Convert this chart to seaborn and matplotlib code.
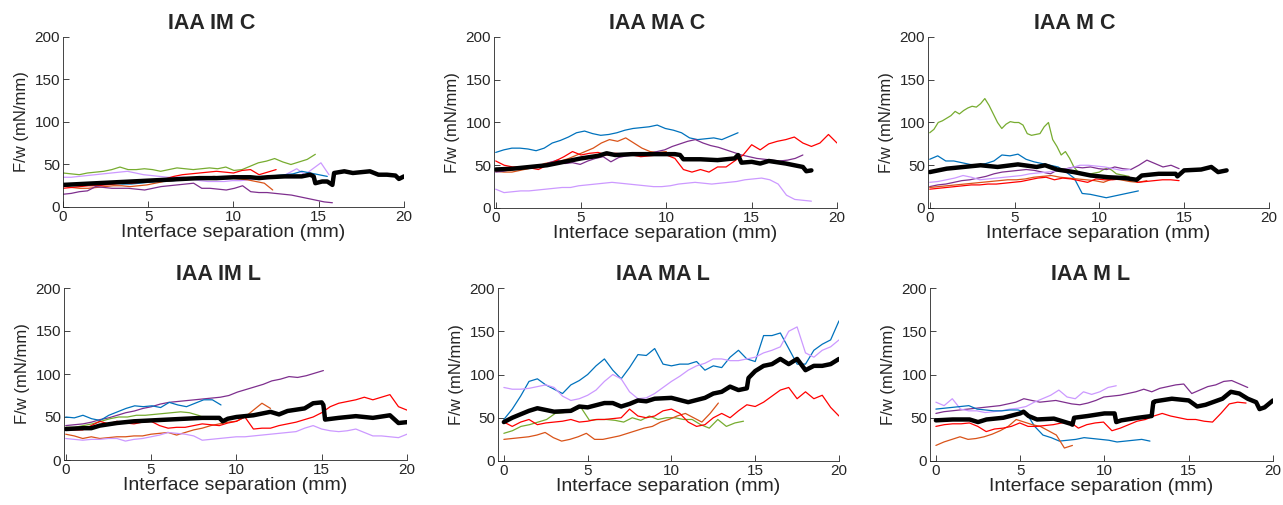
import numpy as np
import pandas as pd
import matplotlib
matplotlib.use("Agg")
import matplotlib.pyplot as plt
import seaborn as sns

# ---------------------------------------------------------------------------
# Peel-test traces: force per width (mN/mm) vs interface separation (mm).
# Each coloured trace is sampled uniformly from 0 to its end separation;
# the thick black mean curve is given as explicit (x, y) breakpoints.
# ---------------------------------------------------------------------------

titles = ["IAA IM C", "IAA MA C", "IAA M C", "IAA IM L", "IAA MA L", "IAA M L"]
x_ticks = [0, 5, 10, 15, 20]
y_ticks = [0, 50, 100, 150, 200]

# ---- IAA IM C --------------------------------------------------------------
imc_green = [40, 39, 38, 40, 41, 42, 44, 47, 44, 44, 45, 44, 42, 44, 46, 45, 44, 45, 46, 45,
             47, 43, 44, 48, 52, 54, 57, 53, 50, 53, 56, 62]
imc_green_end = 14.8
imc_lavender = [35, 35, 36, 37, 38, 39, 40, 41, 42, 40, 38, 37, 36, 35, 35, 35, 33, 31, 30, 30,
                30, 31, 31, 32, 33, 33, 34, 35, 40, 45, 38, 45, 52, 38]
imc_lavender_end = 15.6
imc_blue = [25, 26, 27, 27, 28, 28, 28, 27, 27, 28, 29, 30, 30, 31, 32, 33, 33, 33, 34, 34,
            34, 35, 35, 36, 36, 37, 38, 39, 42, 40, 38, 36]
imc_blue_end = 15.5
imc_red = [22, 23, 24, 25, 25, 26, 27, 28, 28, 29, 30, 31, 33, 36, 38, 39, 40, 41, 42, 41,
           40, 43, 44, 38, 41, 44]
imc_red_end = 12.5
imc_orange = [25, 23, 22, 22, 23, 24, 25, 25, 24, 25, 26, 28, 30, 31, 32, 33, 34, 35, 36, 35,
              34, 33, 32, 30, 28, 20]
imc_orange_end = 12.3
imc_purple = [15, 16, 18, 19, 24, 23, 22, 22, 22, 21, 20, 22, 24, 25, 26, 27, 28, 22, 22, 21,
              20, 22, 25, 18, 17, 17, 16, 15, 14, 12, 10, 8, 6, 5]
imc_purple_end = 15.8
imc_mean_x = [0, 1, 2, 3, 4, 5, 6, 7, 8, 9, 10, 11, 11.5, 12, 13, 14, 14.5, 14.7, 14.8,
              15.2, 15.5, 15.8, 15.9, 16.5, 17, 17.5, 18, 18.5, 19, 19.5, 19.7, 20]
imc_mean_y = [26, 27, 28, 29, 30, 31, 32, 33, 34, 34, 35, 35, 34, 35, 36, 36, 38, 36, 28,
              30, 30, 26, 40, 42, 40, 41, 42, 38, 38, 37, 33, 36]

# ---- IAA MA C --------------------------------------------------------------
mac_blue = [65, 68, 70, 70, 69, 67, 70, 76, 79, 83, 88, 90, 87, 85, 86, 88, 91, 93, 94, 95,
            97, 93, 91, 88, 82, 80, 81, 82, 80, 84, 88]
mac_blue_end = 14.2
mac_orange = [43, 42, 42, 44, 46, 48, 52, 54, 55, 58, 62, 66, 70, 76, 80, 78, 82, 76, 70, 66,
              65, 66]
mac_orange_end = 10.0
mac_red = [55, 50, 48, 48, 47, 45, 50, 55, 60, 66, 62, 64, 65, 62, 64, 63, 62, 60, 61, 62,
           62, 58, 45, 42, 45, 42, 48, 48, 55, 62, 74, 68, 75, 78, 80, 83, 76, 72, 76, 86, 76]
mac_red_end = 20.0
mac_purple = [42, 43, 45, 46, 48, 49, 50, 53, 56, 52, 53, 51, 55, 58, 60, 54, 59, 61, 62, 63,
              64, 66, 68, 72, 75, 78, 80, 76, 73, 71, 68, 65, 62, 60, 58, 57, 56, 55, 56, 58, 62]
mac_purple_end = 18.0
mac_lavender = [22, 18, 19, 20, 20, 21, 22, 23, 24, 24, 26, 27, 28, 29, 30, 29, 28, 27, 26, 25,
                25, 26, 28, 29, 30, 29, 28, 29, 30, 31, 33, 34, 35, 33, 28, 15, 10, 9, 8]
mac_lavender_end = 18.5
mac_mean_x = [0, 1, 2, 3, 4, 5, 6, 6.5, 7, 8, 9, 10, 10.5, 10.8, 11, 12, 13, 14, 14.2,
              14.4, 15, 15.5, 16, 17, 17.5, 18, 18.2, 18.5]
mac_mean_y = [45, 46, 48, 50, 54, 58, 61, 64, 62, 63, 63, 63, 63, 62, 57, 57, 56, 58, 62,
              53, 54, 52, 55, 52, 50, 48, 43, 44]

# ---- IAA M C ---------------------------------------------------------------
mc_green = [88, 92, 100, 102, 105, 108, 113, 110, 114, 117, 119, 118, 122, 128, 120, 110,
            100, 93, 98, 101, 100, 100, 97, 87, 85, 86, 87, 95, 100, 80, 72, 62, 66, 58, 48,
            42, 40, 39, 40, 41, 42, 45, 47, 44, 40, 39, 38, 37]
mc_green_end = 11.75
mc_blue = [57, 61, 55, 55, 53, 51, 50, 52, 55, 62, 61, 63, 57, 54, 52, 50, 48, 42, 35, 17,
           16, 14, 12, 14, 16, 18, 20]
mc_blue_end = 12.3
mc_purple = [25, 27, 28, 30, 32, 33, 35, 37, 40, 42, 43, 44, 45, 44, 42, 40, 45, 46, 48, 47,
             48, 46, 45, 48, 46, 45, 50, 56, 52, 48, 50, 46]
mc_purple_end = 14.7
mc_lavender = [30, 31, 33, 35, 38, 36, 33, 34, 35, 36, 37, 38, 40, 41, 42, 43, 45, 47, 50, 50,
               49, 48, 46, 44, 45]
mc_lavender_end = 11.8
mc_orange = [24, 25, 26, 27, 28, 29, 30, 31, 32, 33, 33, 34, 36, 37, 38, 36, 35, 34, 33, 32,
             30, 34, 33, 31, 30, 32]
mc_orange_end = 12.8
mc_red = [22, 23, 24, 25, 26, 27, 27, 28, 28, 29, 30, 31, 33, 35, 36, 33, 35, 34, 32, 30,
          34, 33, 33, 34, 36, 30, 31, 32, 33, 33, 32]
mc_red_end = 14.7
mc_mean_x = [0, 0.5, 1, 2, 3, 4, 5.2, 6.3, 6.8, 7.5, 8.5, 9.5, 10.5, 11.5, 12.2, 12.5, 13.5,
             14.5, 14.6, 15, 16, 16.6, 17, 17.5]
mc_mean_y = [42, 44, 46, 48, 50, 48, 51, 48, 50, 45, 42, 38, 36, 35, 33, 38, 40, 40, 37, 44,
             45, 48, 42, 44]

# ---- IAA IM L --------------------------------------------------------------
iml_purple = [40, 41, 42, 44, 47, 49, 52, 55, 57, 60, 62, 65, 67, 68, 69, 70, 71, 72, 73, 75,
              79, 82, 85, 88, 92, 94, 97, 96, 98, 101, 104]
iml_purple_end = 15.1
iml_blue = [50, 49, 52, 48, 46, 52, 56, 60, 63, 62, 63, 61, 67, 64, 62, 66, 70, 70, 64]
iml_blue_end = 9.1
iml_green = [38, 38, 40, 42, 45, 48, 50, 50, 52, 52, 53, 54, 55, 56, 55, 52, 48, 47]
iml_green_end = 8.8
iml_orange = [30, 28, 25, 27, 25, 26, 27, 27, 28, 28, 30, 31, 32, 29, 32, 35, 37, 40, 42, 44,
              45, 50, 58, 66, 60]
iml_orange_end = 12.0
iml_red = [36, 35, 35, 40, 45, 42, 45, 43, 42, 44, 45, 40, 37, 38, 38, 40, 42, 41, 40, 43,
           45, 50, 36, 37, 37, 40, 42, 44, 47, 50, 55, 62, 66, 68, 70, 73, 70, 73, 76, 62, 58]
iml_red_end = 20.0
iml_lavender = [25, 24, 23, 24, 24, 25, 25, 22, 24, 25, 27, 29, 32, 31, 30, 28, 23, 24, 25, 26,
                27, 27, 28, 29, 30, 31, 32, 33, 37, 40, 36, 34, 33, 34, 36, 32, 28, 28, 27, 26, 30]
iml_lavender_end = 20.0
iml_mean_x = [0, 1, 1.5, 2, 3, 4, 5, 6, 7, 8, 9, 9.2, 9.5, 10, 11, 12, 12.5, 13, 14, 14.5,
              15, 15.1, 15.2, 16, 17, 18, 19, 19.5, 20]
iml_mean_y = [36, 37, 37, 40, 43, 45, 46, 47, 48, 49, 49, 45, 48, 50, 52, 56, 53, 57, 60, 66,
              67, 64, 47, 49, 51, 49, 52, 43, 44]

# ---- IAA MA L --------------------------------------------------------------
mal_blue = [48, 60, 75, 92, 95, 88, 83, 78, 88, 93, 100, 110, 118, 105, 95, 108, 123, 122,
            130, 112, 110, 112, 112, 115, 105, 110, 108, 120, 128, 118, 115, 145, 145, 148,
            130, 112, 112, 128, 135, 140, 162]
mal_blue_end = 20.0
mal_lavender = [85, 83, 83, 84, 86, 88, 85, 75, 70, 72, 76, 82, 92, 100, 95, 80, 72, 73, 78,
                85, 92, 98, 105, 110, 113, 118, 118, 116, 116, 118, 120, 125, 128, 132, 150,
                155, 125, 120, 128, 132, 140]
mal_lavender_end = 20.0
mal_red = [45, 40, 45, 48, 42, 44, 45, 46, 48, 45, 46, 48, 48, 49, 50, 60, 52, 50, 52, 58,
           60, 55, 45, 40, 42, 50, 55, 50, 58, 65, 63, 68, 75, 82, 85, 72, 80, 72, 76, 62, 52]
mal_red_end = 20.0
mal_green = [32, 35, 40, 42, 45, 48, 55, 56, 58, 62, 47, 48, 48, 47, 45, 50, 47, 52, 48, 50,
             50, 48, 48, 42, 38, 48, 40, 44, 46]
mal_green_end = 14.3
mal_orange = [25, 26, 27, 28, 30, 33, 27, 23, 25, 28, 32, 25, 25, 27, 29, 32, 35, 38, 40, 45,
              48, 52, 55, 50, 45, 55, 67]
mal_orange_end = 12.8
mal_mean_x = [0, 0.5, 1, 1.5, 2, 3, 4, 4.5, 5, 6, 6.5, 7, 7.5, 8, 8.5, 9, 10, 11, 12, 12.5,
              13, 13.5, 14, 14.5, 14.6, 15, 15.5, 16, 16.5, 17, 17.5, 18, 18.5, 19, 19.5, 20]
mal_mean_y = [45, 50, 54, 58, 61, 57, 58, 63, 62, 67, 67, 63, 66, 70, 69, 72, 73, 68, 73, 78,
              80, 86, 82, 84, 96, 104, 110, 112, 118, 112, 118, 105, 110, 110, 112, 118]

# ---- IAA M L ---------------------------------------------------------------
ml_lavender = [68, 64, 72, 60, 58, 58, 56, 57, 58, 60, 61, 63, 68, 72, 76, 82, 74, 72, 80, 77,
               80, 85, 87]
ml_lavender_end = 10.7
ml_purple = [55, 57, 58, 59, 60, 61, 62, 63, 64, 66, 68, 72, 70, 68, 69, 70, 68, 66, 65, 67,
             70, 74, 75, 76, 78, 80, 83, 80, 84, 86, 88, 89, 78, 82, 86, 88, 92, 93, 89, 85]
ml_purple_end = 18.5
ml_blue = [60, 61, 62, 63, 64, 60, 59, 58, 58, 59, 59, 55, 40, 30, 27, 23, 24, 25, 27, 26,
           25, 24, 22, 23, 24, 25, 23]
ml_blue_end = 12.7
ml_red = [40, 42, 43, 43, 44, 40, 34, 37, 38, 40, 44, 40, 40, 41, 42, 44, 45, 38, 42, 44,
          45, 35, 38, 42, 46, 48, 52, 55, 52, 50, 48, 48, 46, 45, 55, 66, 68, 67]
ml_red_end = 18.4
ml_orange = [18, 22, 25, 28, 25, 26, 28, 31, 35, 40, 48, 45, 42, 40, 35, 30, 15, 18]
ml_orange_end = 8.1
ml_mean_x = [0, 1, 2, 2.5, 3, 4, 5, 5.2, 5.5, 6, 7, 8, 8.1, 8.2, 9, 10, 10.6, 10.7, 11, 12,
             12.8, 12.9, 13, 14, 15, 15.5, 16, 17, 17.5, 18, 18.5, 19, 19.2, 19.5, 20]
ml_mean_y = [47, 48, 48, 45, 48, 50, 55, 57, 52, 48, 49, 43, 42, 50, 52, 55, 55, 45, 47, 50,
             52, 68, 69, 72, 70, 63, 65, 72, 80, 78, 72, 68, 60, 62, 70]

# ---------------------------------------------------------------------------
colors = {
    "blue": "#0072BD",
    "orange": "#D95319",
    "green": "#77AC30",
    "purple": "#7E2F8E",
    "red": "#FF0000",
    "lavender": "#CC99FF",
}


def trace(name, values, end):
    """Tidy frame for one trace sampled uniformly from 0 to its last separation."""
    x = np.linspace(0.0, end, len(values))
    return pd.DataFrame({"sep": x, "fw": values, "trace": name})


panels = [
    ([trace("green", imc_green, imc_green_end), trace("lavender", imc_lavender, imc_lavender_end),
      trace("blue", imc_blue, imc_blue_end), trace("orange", imc_orange, imc_orange_end),
      trace("red", imc_red, imc_red_end), trace("purple", imc_purple, imc_purple_end)],
     (imc_mean_x, imc_mean_y), 0.0),
    ([trace("blue", mac_blue, mac_blue_end), trace("orange", mac_orange, mac_orange_end),
      trace("purple", mac_purple, mac_purple_end), trace("red", mac_red, mac_red_end),
      trace("lavender", mac_lavender, mac_lavender_end)],
     (mac_mean_x, mac_mean_y), -0.1),
    ([trace("green", mc_green, mc_green_end), trace("blue", mc_blue, mc_blue_end),
      trace("purple", mc_purple, mc_purple_end), trace("lavender", mc_lavender, mc_lavender_end),
      trace("orange", mc_orange, mc_orange_end), trace("red", mc_red, mc_red_end)],
     (mc_mean_x, mc_mean_y), -0.1),
    ([trace("purple", iml_purple, iml_purple_end), trace("blue", iml_blue, iml_blue_end),
      trace("green", iml_green, iml_green_end), trace("orange", iml_orange, iml_orange_end),
      trace("red", iml_red, iml_red_end), trace("lavender", iml_lavender, iml_lavender_end)],
     (iml_mean_x, iml_mean_y), -0.1),
    ([trace("blue", mal_blue, mal_blue_end), trace("lavender", mal_lavender, mal_lavender_end),
      trace("green", mal_green, mal_green_end), trace("orange", mal_orange, mal_orange_end),
      trace("red", mal_red, mal_red_end)],
     (mal_mean_x, mal_mean_y), -0.35),
    ([trace("purple", ml_purple, ml_purple_end), trace("lavender", ml_lavender, ml_lavender_end),
      trace("blue", ml_blue, ml_blue_end), trace("orange", ml_orange, ml_orange_end),
      trace("red", ml_red, ml_red_end)],
     (ml_mean_x, ml_mean_y), -0.35),
]

# axes rectangles (left, top, right, bottom) in pixels, and title anchor
W, H = 1283.0, 505.0
boxes = [
    (63, 37, 404, 207), (494, 37, 837, 208), (928, 37, 1269, 208),
    (64, 288, 407, 460), (498, 288, 839, 461), (930, 288, 1273, 461),
]
title_x = [0.437, 0.475, 0.431, 0.449, 0.484, 0.469]

sns.set_style("ticks")
plt.rcParams["font.family"] = ["Liberation Sans", "DejaVu Sans"]
plt.rcParams["xtick.direction"] = "in"
plt.rcParams["ytick.direction"] = "in"

fig = plt.figure(figsize=(12.83, 5.05), dpi=100)
fig.patch.set_facecolor("white")

for (series, (mx, my), x0), title, (l, t, r, b), tx in zip(panels, titles, boxes, title_x):
    ax = fig.add_axes([l / W, 1 - b / H, (r - l) / W, (b - t) / H])
    for df in series:
        name = df["trace"].iloc[0]
        sns.lineplot(data=df, x="sep", y="fw", ax=ax, color=colors[name],
                     linewidth=0.9, estimator=None, sort=False)
    sns.lineplot(x=mx, y=my, ax=ax, color="black", linewidth=3.2,
                 estimator=None, sort=False)
    ax.set_xlim(x0, 20)
    ax.set_ylim(0, 200)
    ax.set_xticks(x_ticks)
    ax.set_yticks(y_ticks)
    ax.tick_params(axis="both", labelsize=11, length=4, width=0.6,
                   colors="#262626", pad=2)
    ax.set_title(title, fontsize=15.5, fontweight="bold", pad=6)
    ax.title.set_x(tx)
    ax.set_xlabel("Interface separation (mm)", fontsize=14, labelpad=0)
    ax.set_ylabel("F/w (mN/mm)", fontsize=12, labelpad=4)
    for side in ("top", "right"):
        ax.spines[side].set_visible(False)
    for side in ("left", "bottom"):
        ax.spines[side].set_linewidth(0.6)
        ax.spines[side].set_color("#262626")

fig.savefig("out.png", dpi=100)
